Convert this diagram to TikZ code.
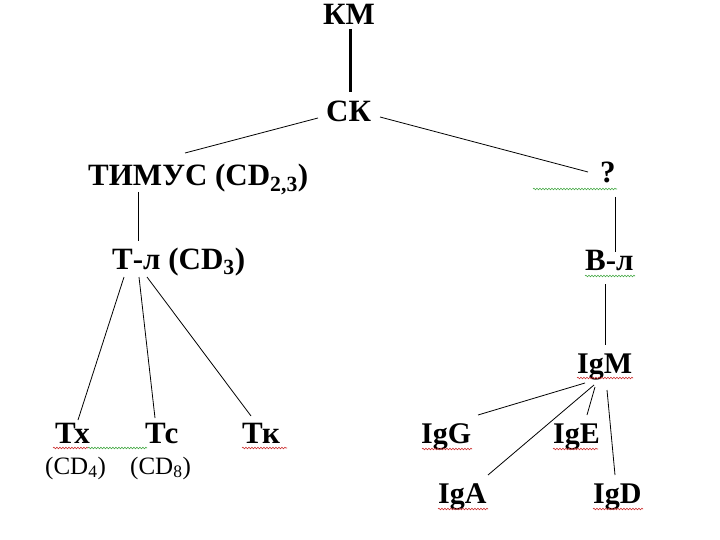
\documentclass[tikz,border=0pt]{standalone}
\usepackage{fontspec}
\setmainfont{Liberation Serif}
\usetikzlibrary{decorations.pathmorphing}
\definecolor{wred}{RGB}{205,50,50}
\definecolor{wgreen}{RGB}{70,170,70}
\tikzset{
  lbl/.style={font=\fontsize{31}{36}\selectfont\bfseries, inner sep=0pt, anchor=base west},
  iglbl/.style={font=\fontsize{30}{36}\selectfont\bfseries, inner sep=0pt, anchor=base west},
  sub/.style={font=\fontsize{25}{30}\selectfont, inner sep=0pt, anchor=base west},
  edge/.style={draw=black, line width=0.8pt},
  thick edge/.style={draw=black, line width=3pt},
  wave/.style={decorate, decoration={snake, amplitude=0.8pt, segment length=3pt}, line width=0.6pt},
}
\begin{document}
\begin{tikzpicture}[x=1pt,y=-1pt]
\useasboundingbox[fill=white] (0,0) rectangle (720,540);
% nodes
\node[lbl] (km) at (323,25) {КМ};
\node[lbl] (sk) at (326,122) {СК};
\node[lbl] (tim) at (88,186) {ТИМУС (CD\textsubscript{2,3})};
\node[lbl] (q) at (600,183) {?};
\node[lbl] (tl) at (112,269) {Т-л (CD\textsubscript{3})};
\node[lbl] (bl) at (585,270) {В-л};
\node[lbl] (tx) at (55,443) {Тх};
\node[lbl] (tc) at (145,443) {Тс};
\node[lbl] (tk) at (242,443) {Тк};
\node[sub] (cd4) at (45,474) {(CD\textsubscript{4})};
\node[sub] (cd8) at (130,474) {(CD\textsubscript{8})};
\node[iglbl] (igm) at (577,373) {IgM};
\node[iglbl] (igg) at (421,443) {IgG};
\node[iglbl] (ige) at (553,443) {IgE};
\node[iglbl] (iga) at (438,503) {IgA};
\node[iglbl] (igd) at (593,503) {IgD};
% connectors
\draw[thick edge] ([xshift=27pt,yshift=-4pt]km.base west) -- ([xshift=24pt,yshift=30pt]sk.base west);
\draw[edge] ([xshift=-8pt,yshift=4pt]sk.base west) -- ([xshift=97pt,yshift=33pt]tim.base west);
\draw[edge] ([xshift=54pt,yshift=5pt]sk.base west) -- ([xshift=-12pt,yshift=11pt]q.base west);
\draw[edge] ([xshift=50pt,yshift=-6pt]tim.base west) -- ([xshift=26pt,yshift=28pt]tl.base west);
\draw[edge] ([xshift=12pt,yshift=-8pt]tl.base west) -- ([xshift=23pt,yshift=23pt]tx.base west);
\draw[edge] ([xshift=27pt,yshift=-8pt]tl.base west) -- ([xshift=10pt,yshift=25pt]tc.base west);
\draw[edge] ([xshift=35pt,yshift=-8pt]tl.base west) -- ([xshift=9pt,yshift=27pt]tk.base west);
\draw[edge] ([xshift=15pt,yshift=-14pt]q.base west) -- ([xshift=30pt,yshift=18pt]bl.base west);
\draw[edge] ([xshift=20pt,yshift=-14pt]bl.base west) -- ([xshift=28pt,yshift=28pt]igm.base west);
\draw[edge] ([xshift=8pt,yshift=-10pt]igm.base west) -- ([xshift=57pt,yshift=28pt]igg.base west);
\draw[edge] ([xshift=18pt,yshift=-14pt]igm.base west) -- ([xshift=34pt,yshift=28pt]ige.base west);
\draw[edge] ([xshift=17pt,yshift=-12pt]igm.base west) -- ([xshift=50pt,yshift=28pt]iga.base west);
\draw[edge] ([xshift=30pt,yshift=-17pt]igm.base west) -- ([xshift=22pt,yshift=28pt]igd.base west);
% spell-check underlines
\draw[wave, wgreen] (533,189) -- (617,189);
\draw[wave, wgreen] (585,276) -- (635,276);
\draw[wave, wred] (577,378) -- (633,378);
\draw[wave, wred] (422,449) -- (472,449);
\draw[wave, wred] (553,449) -- (598,449);
\draw[wave, wred] (438,509) -- (488,509);
\draw[wave, wred] (593,509) -- (643,509);
\draw[wave, wred] (53,448) -- (88,448);
\draw[wave, wgreen] (88,448) -- (147,448);
\draw[wave, wred] (242,448) -- (287,448);
\end{tikzpicture}
\end{document}
